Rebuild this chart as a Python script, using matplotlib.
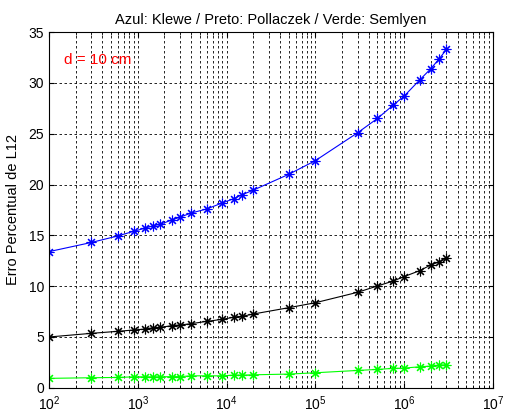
import numpy as np
import matplotlib
matplotlib.use("Agg")
import matplotlib.pyplot as plt

plt.rcParams["font.family"] = ["Liberation Sans", "DejaVu Sans"]

# frequency points (Hz)
freq = [100, 300, 600, 900, 1200, 1500, 1800, 2400, 3000, 4000, 6000, 9000,
        12000, 15000, 20000, 50000, 1e5, 3e5, 5e5, 7.5e5, 1e6, 1.5e6, 2e6,
        2.5e6, 3e6]

# percent error of L12
klewe = [13.4, 14.3, 14.95, 15.4, 15.7, 15.95, 16.1, 16.5, 16.8, 17.2, 17.6,
         18.2, 18.6, 19.0, 19.45, 21.0, 22.35, 25.1, 26.5, 27.8, 28.7, 30.3,
         31.4, 32.4, 33.3]
pollaczek = [5.0, 5.36, 5.56, 5.69, 5.78, 5.91, 5.95, 6.11, 6.18, 6.31, 6.54,
             6.74, 6.94, 7.03, 7.26, 7.88, 8.37, 9.40, 10.02, 10.5, 10.94,
             11.53, 12.09, 12.4, 12.75]
semlyen = [0.93, 0.99, 1.02, 1.08, 1.08, 1.08, 1.08, 1.1, 1.1, 1.18, 1.18,
           1.18, 1.25, 1.25, 1.28, 1.35, 1.48, 1.71, 1.81, 1.91, 1.94, 2.07,
           2.14, 2.24, 2.26]

fig = plt.figure(figsize=(5.05, 4.17), dpi=100)
ax = fig.add_axes([0.097, 0.07, 0.879, 0.853])

star = (8, 2, 0)  # matlab-like asterisk: + and x
ax.semilogx(freq, klewe, "b-", marker=star, lw=0.8, ms=7, mew=0.8)
ax.semilogx(freq, pollaczek, "k-", marker=star, lw=0.8, ms=7, mew=0.8)
ax.semilogx(freq, semlyen, "-", marker=star, color=(0, 1, 0), lw=0.8,
            ms=7, mew=0.8)

ax.set_xlim(1e2, 1e7)
ax.set_ylim(0, 35)
ax.set_yticks(np.arange(0, 36, 5))

ax.grid(True, which="both", color="k", linestyle=(0, (3, 3)), lw=0.6)
ax.tick_params(which="both", direction="in", top=True, right=True,
               labelsize=10)
ax.tick_params(axis="x", pad=5)
for s in ax.spines.values():
    s.set_linewidth(0.8)

ax.set_title("Azul: Klewe / Preto: Pollaczek / Verde: Semlyen", fontsize=10.5)
ax.set_ylabel("Erro Percentual de L12", fontsize=10.5, labelpad=6)
ax.text(10 ** 2.17, 32.3, "d = 10 cm", color="red", fontsize=11,
        va="center", ha="left")

fig.savefig("out.png", dpi=100)
